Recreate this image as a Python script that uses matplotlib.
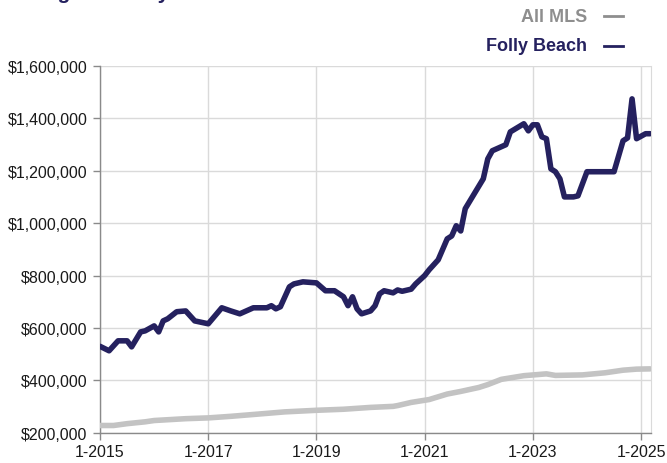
import matplotlib
matplotlib.use('Agg')
import matplotlib.pyplot as plt
from matplotlib.lines import Line2D
from matplotlib.ticker import FuncFormatter

NAVY = '#25215f'
GRAY_LINE = '#c3c3c3'
GRAY_TEXT = '#8e8e8e'
GRID = '#dadada'

# months since 1-2015
FOLLY_MONTH = [0, 2, 4, 6, 7, 9, 10, 12, 13, 14, 15, 17, 19, 21, 24, 27, 29, 31,
               34, 37, 38, 39, 40, 42, 43, 45, 48, 50, 52, 54, 55, 56, 57, 58,
               60, 61, 62, 63, 65, 66, 67, 69, 70, 72, 73, 75, 77, 78, 79, 80,
               81, 83, 85, 86, 87, 90, 91, 94, 95, 96, 97, 98, 99, 100, 101,
               102, 103, 105, 106, 108, 114, 116, 117, 118, 119, 121, 122]
FOLLY_VALUE = [530, 513, 551, 551, 528, 585, 589, 608, 585, 627, 635, 662, 665,
               627, 616, 677, 665, 654, 677, 677, 685, 673, 681, 757, 768, 776,
               772, 742, 742, 719, 685, 719, 673, 654, 665, 685, 730, 742, 734,
               745, 740, 748, 768, 800, 822, 860, 940, 951, 990, 970, 1055,
               1112, 1169, 1245, 1276, 1299, 1348, 1379, 1352, 1375, 1375, 1329,
               1322, 1207, 1196, 1169, 1100, 1100, 1104, 1196, 1196, 1314, 1325,
               1474, 1322, 1341, 1341]

MLS_MONTH = [0, 3, 6, 10, 12, 19, 24, 29, 34, 41, 48, 54, 60, 65, 66, 69, 73,
             77, 80, 84, 86, 89, 94, 99, 101, 107, 112, 116, 119, 122]
MLS_VALUE = [228, 228, 235, 242, 247, 254, 257, 263, 270, 280, 286, 290, 297,
             301, 304, 316, 327, 348, 358, 373, 384, 404, 418, 425, 419, 421,
             429, 439, 443, 444]

X_TICKS = [2015, 2017, 2019, 2021, 2023, 2025]
Y_TICKS = [200000, 400000, 600000, 800000, 1000000, 1200000, 1400000, 1600000]

fig = plt.figure(figsize=(6.67, 4.64), dpi=100)
ax = fig.add_axes([0.150, 0.065, 0.826, 0.791])

mls_x = [2015 + m / 12 for m in MLS_MONTH]
mls_y = [v * 1000 for v in MLS_VALUE]
fb_x = [2015 + m / 12 for m in FOLLY_MONTH]
fb_y = [v * 1000 for v in FOLLY_VALUE]

ax.plot(mls_x, mls_y, color=GRAY_LINE, lw=4.0, solid_capstyle='round',
        solid_joinstyle='round', zorder=3)
ax.plot(fb_x, fb_y, color=NAVY, lw=4.0, solid_capstyle='round',
        solid_joinstyle='round', zorder=4)

ax.set_xlim(2015, 2015 + 122.2 / 12)
ax.set_ylim(200000, 1600000)
ax.set_xticks(X_TICKS)
ax.set_xticklabels([f'1-{y}' for y in X_TICKS])
ax.set_yticks(Y_TICKS)
ax.yaxis.set_major_formatter(FuncFormatter(lambda v, p: f'${v:,.0f}'))

ax.grid(True, color=GRID, lw=1.0, zorder=0)
ax.set_axisbelow(True)
for s in ['left', 'bottom']:
    ax.spines[s].set_color('#8a8a8a')
    ax.spines[s].set_linewidth(1.0)
ax.spines['top'].set_visible(False)
ax.spines['right'].set_color(GRID)
ax.tick_params(axis='both', colors='#8a8a8a', length=5, width=1.0,
               labelcolor='#1a1a1a', labelsize=11.5)
ax.tick_params(axis='y', pad=4)
ax.tick_params(axis='x', pad=3)
for lab in ax.get_xticklabels() + ax.get_yticklabels():
    lab.set_fontfamily(['Liberation Sans', 'DejaVu Sans'])

# title sits above the top edge, only its descenders show
fig.text(0.0, 1.0 + 1 / 464, 'Average Price by Area', ha='left', va='baseline',
         fontsize=15, fontweight='bold', color=NAVY,
         family=['Liberation Sans', 'DejaVu Sans'])

# legend on the right
leg_font = ['Liberation Sans', 'DejaVu Sans']
for label, col, ypix in [('All MLS', GRAY_TEXT, 17), ('Folly Beach', NAVY, 47)]:
    yf = 1 - ypix / 464
    fig.text(587 / 667, yf, label, ha='right', va='center', fontsize=13,
             fontweight='bold', color=col, family=leg_font)
    fig.add_artist(Line2D([604 / 667, 623 / 667], [yf, yf], color=col,
                          lw=2.0, transform=fig.transFigure))

fig.savefig('out.png', dpi=100)
